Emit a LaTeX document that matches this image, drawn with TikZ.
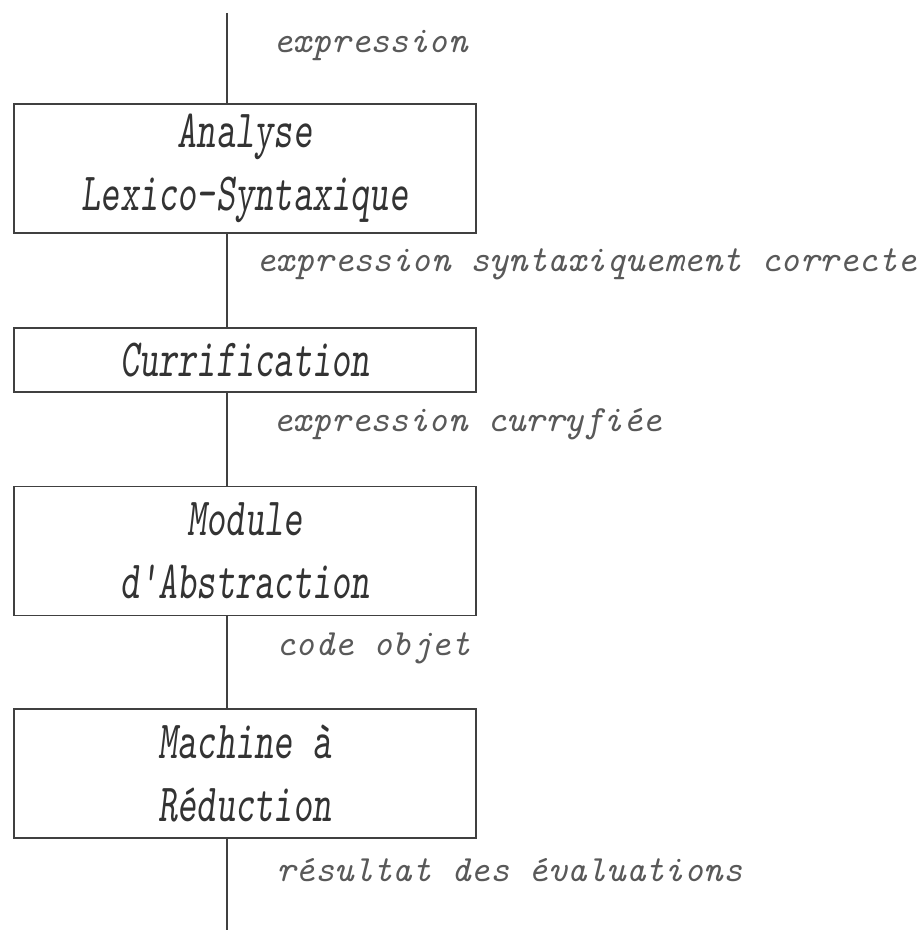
\documentclass[tikz,border=0pt]{standalone}
\usepackage{graphicx}
\usepackage{tikz}
\usetikzlibrary{positioning}

\newcommand{\boxfont}{\fontsize{18.3}{31.5}\fontseries{l}\selectfont\ttfamily\slshape}
\newcommand{\labelfont}{\fontsize{18.5}{22}\selectfont\ttfamily\itshape}
\newcommand{\boxline}[1]{\scalebox{1}[1.47]{#1}}

\tikzset{
  basic/.style       = {draw=black!75, line width=0.9pt, rectangle, inner sep=0pt,
                        minimum width=231pt},
  stage/.style       = {basic, minimum height=64.5pt, align=center, font=\boxfont,
                        text=black!80},
  short stage/.style = {stage, minimum height=32pt},
  flow label/.style  = {anchor=base west, inner sep=0pt, font=\labelfont, text=black!65},
  flow/.style        = {draw=black!75, line width=0.6pt}
}

\begin{document}
\begin{tikzpicture}[x=0.5pt, y=-0.5pt]
\useasboundingbox (0,0) rectangle (919,930);

% the processing stages
\node[stage] (analyse) at (245,168.5) {\boxline{Analyse}\\\boxline{Lexico-Syntaxique}};
\node[short stage] (curry) at (245,360) {\boxline{Currification}};
\node[stage] (abstr) at (245,551) {\boxline{Module}\\\boxline{d'Abstraction}};
\node[stage] (machine) at (245,773.5) {\boxline{Machine à}\\\boxline{Réduction}};

% free ends of the flow
\coordinate (in) at (227,13);
\coordinate (out) at (227,930);

% the flow between stages
\draw[flow] (in) -- (analyse.north -| in);
\draw[flow] (analyse.south -| in) -- (curry.north -| in);
\draw[flow] (curry.south -| in) -- (abstr.north -| in);
\draw[flow] (abstr.south -| in) -- (machine.north -| in);
\draw[flow] (machine.south -| in) -- (out);

% what travels along the flow
\node[flow label] (l1) at (273,53) {expression};
\node[flow label] (l2) at (256,271) {expression syntaxiquement correcte};
\node[flow label] (l3) at (273,431) {expression curryfiée};
\node[flow label] (l4) at (276,655) {code objet};
\node[flow label] (l5) at (276,881) {résultat des évaluations};

\end{tikzpicture}
\end{document}
